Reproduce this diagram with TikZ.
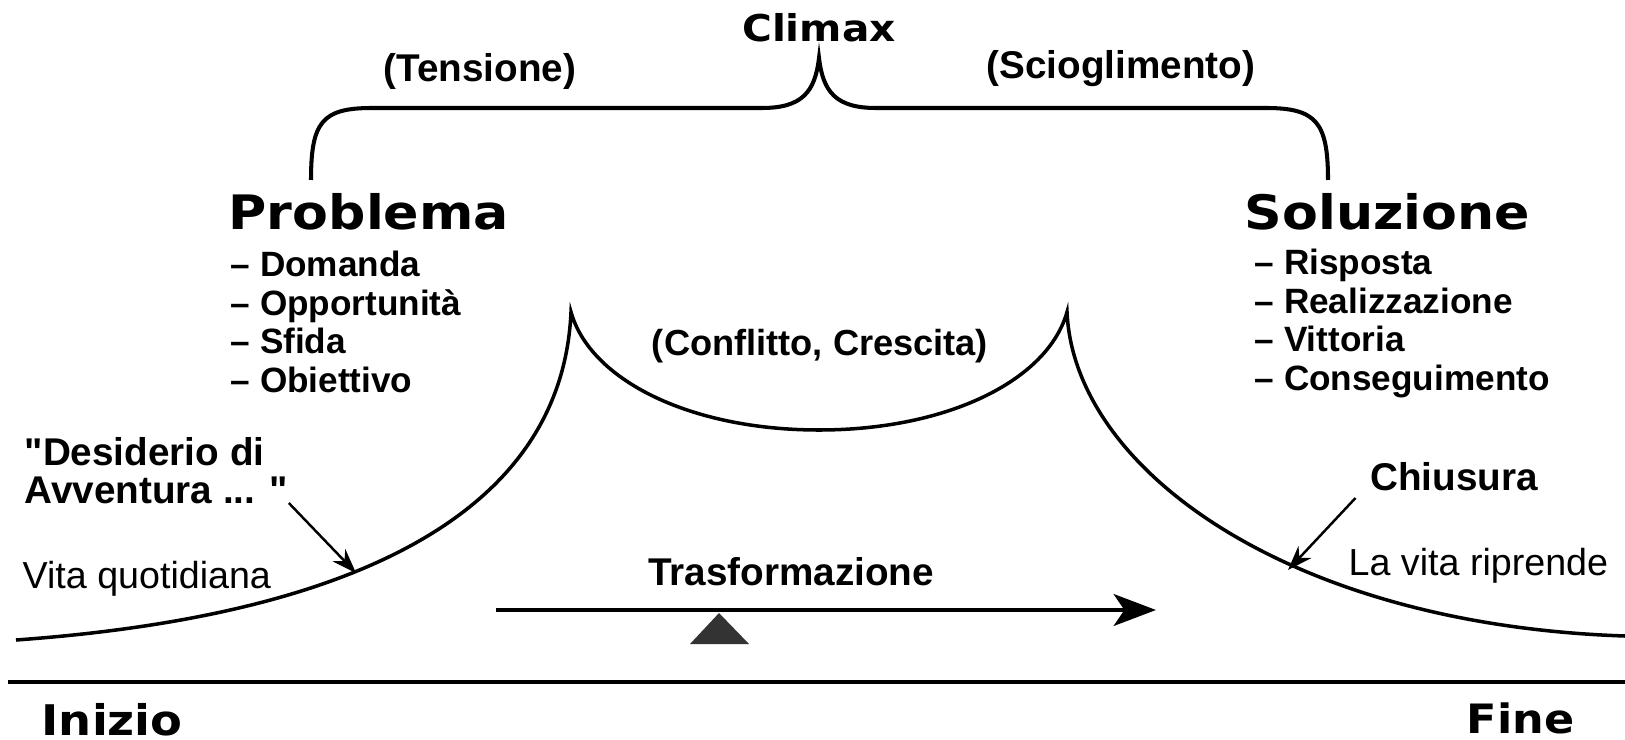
\documentclass[tikz,border=0pt]{standalone}
\usepackage{fontspec}
\setmainfont{Liberation Sans}[Ligatures=TeXOff]
\newfontfamily\headfont[FakeStretch=1.1]{DejaVu Sans}
\usetikzlibrary{arrows.meta,positioning,calc}

\begin{document}
\begin{tikzpicture}[x=0.01cm,y=-0.01cm,
    txt/.style={inner sep=0pt,font=\bfseries\fontsize{11}{13}\selectfont},
    head/.style={inner sep=0pt,font=\headfont\bfseries\fontsize{13.5}{16}\selectfont},
    item/.style={inner sep=0pt,anchor=base west,font=\bfseries\fontsize{10}{12}\selectfont},
    plain/.style={inner sep=0pt,anchor=base west,font=\fontsize{10.7}{13}\selectfont},
    curve/.style={line width=1pt}]
    \useasboundingbox (0,0) rectangle (1625,740);

    % brace over the story
    \draw[line width=1.15pt] (311,180) .. controls (311,122) and (322,108) .. (372,108) -- (762,108)
        .. controls (802,108) and (815,92) .. (819,58) .. controls (823,92) and (836,108) .. (876,108)
        -- (1266,108) .. controls (1316,108) and (1328,122) .. (1328,180);
    \node[head,anchor=base,font=\headfont\bfseries\fontsize{10.5}{12}\selectfont] (climax) at (819,42) {Climax};
    \node[txt,anchor=base] (tensione) at (480,82) {(Tensione)};
    \node[txt,anchor=base] (scioglimento) at (1121,79) {(Scioglimento)};

    \node[head,anchor=base west] (problema) at (228,230) {Problema};
    \node[head,anchor=base west] (soluzione) at (1244,230) {Soluzione};
    \foreach \txt [count=\i] in {Domanda,Opportunità,Sfida,Obiettivo}
        \node[item] (prob\i) at (230,{238.6+38.4*\i}) {– \txt};
    \foreach \txt [count=\i] in {Risposta,Realizzazione,Vittoria,Conseguimento}
        \node[item] (sol\i) at (1254,{236.6+38.4*\i}) {– \txt};

    % the arc of the story
    \draw[curve] (16,640) .. controls (350,616) and (562,515) .. (571,312)
        .. controls (590,380) and (690,430) .. (819,430)
        .. controls (948,430) and (1048,380) .. (1067,312)
        .. controls (1074,470) and (1290,625) .. (1625,636);
    \node[txt,anchor=base,font=\bfseries\fontsize{10.3}{12}\selectfont] (conflitto) at (820,355) {(Conflitto, Crescita)};

    \node[txt,anchor=base west] (desA) at (24,465) {"Desiderio di};
    \node[txt,anchor=base west] (desB) at (24,503) {Avventura ... "};
    \node[plain] (vita) at (22,588) {Vita quotidiana};
    \coordinate (desTip) at (356,573);
    \draw[-{Stealth[length=7pt,width=5pt]},line width=0.7pt] (desB.base east) -- (desTip);

    \node[txt,anchor=base] (chiusura) at (1454,490) {Chiusura};
    \node[plain] (riprende) at (1348,575) {La vita riprende};
    \coordinate (chiTip) at (1288,570);
    \draw[-{Stealth[length=7pt,width=5pt]},line width=0.7pt] ($(chiusura.base west)+(-14,8)$) -- (chiTip);

    % transformation
    \node[txt,anchor=base] (trasf) at (791,585) {Trasformazione};
    \coordinate (trA) at (496,610);
    \coordinate (trB) at (1156,610);
    \draw[line width=1.4pt,-{Stealth[length=12pt,width=9pt,inset=3pt]}] (trA) -- (trB);
    \fill[black!80] (719,613) -- (749,644) -- (690,644) -- cycle;

    % time line
    \draw[line width=1.4pt] (8,682) -- (1625,682);
    \node[head,anchor=base west,font=\headfont\bfseries\fontsize{12}{14}\selectfont] (inizio) at (41,735) {Inizio};
    \node[head,anchor=base east,font=\headfont\bfseries\fontsize{11.5}{14}\selectfont] (fine) at (1575,733) {Fine};
\end{tikzpicture}
\end{document}
